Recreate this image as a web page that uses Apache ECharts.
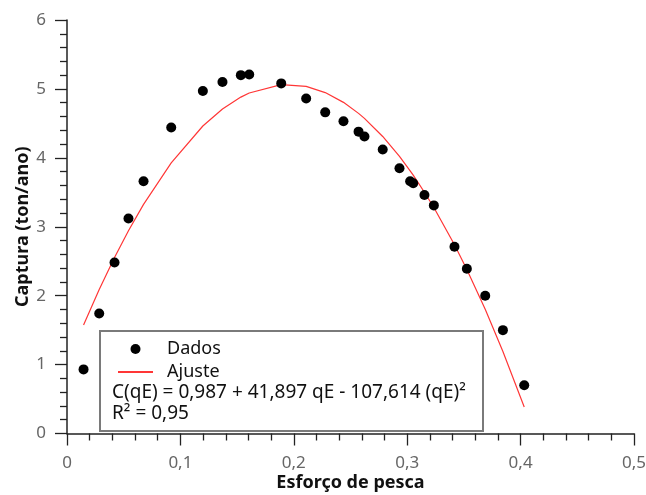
<!DOCTYPE html>
<html>
<head>
<meta charset="utf-8">
<script src="https://cdn.jsdelivr.net/npm/echarts@6/dist/echarts.min.js"></script>
<style>html,body{margin:0;padding:0;background:#fff}#c{width:646px;height:495px}</style>
</head>
<body>
<div id="c"></div>
<script>
var esforco = [0.0146,0.0284,0.0419,0.0542,0.0675,0.0919,0.1198,0.1371,0.1533,0.1607,0.1889,0.2109,0.2277,0.2438,0.2571,0.2623,0.2784,0.2932,0.3026,0.3053,0.3152,0.3235,0.3417,0.3526,0.3688,0.3844,0.4032];
var captura = [0.93,1.74,2.48,3.12,3.66,4.44,4.97,5.10,5.20,5.21,5.08,4.86,4.66,4.53,4.38,4.31,4.12,3.85,3.66,3.63,3.46,3.31,2.71,2.39,2.00,1.50,0.70];
var ajuste = [1.576,2.090,2.554,2.942,3.325,3.928,4.462,4.708,4.881,4.941,5.062,5.037,4.947,4.805,4.645,4.573,4.310,4.020,3.811,3.748,3.501,3.279,2.738,2.381,1.802,1.191,0.385];
var xTicks = [0,0.1,0.2,0.3,0.4,0.5];
var yTicks = [0,1,2,3,4,5,6];
var legendNames = ['Dados','Ajuste'];
var equationText = 'C(qE) = 0,987 + 41,897 qE - 107,614 (qE)²';
var r2Text = 'R² = 0,95';

var FONT = 'Noto Sans';
var dados = esforco.map(function(x,i){return [x,captura[i]];});
var fit = esforco.map(function(x,i){return [x,ajuste[i]];});

var chart = echarts.init(document.getElementById('c'), null, {renderer:'canvas'});
chart.setOption({
  animation:false,
  backgroundColor:'#fff',
  textStyle:{fontFamily:FONT},
  grid:{left:67,right:12,top:20,bottom:61.5,containLabel:false,outerBoundsMode:'none'},
  xAxis:{
    type:'value', min:xTicks[0], max:xTicks[xTicks.length-1], interval:0.1,
    name:'Esforço de pesca', nameLocation:'middle', nameGap:40, nameMoveOverlap:false,
    nameTextStyle:{fontFamily:FONT,fontWeight:'bold',fontSize:18,color:'#111'},
    axisLine:{show:true,onZero:false,lineStyle:{color:'#222',width:1.5}},
    axisTick:{show:true,inside:false,length:12,lineStyle:{color:'#222',width:1.3}},
    minorTick:{show:true,splitNumber:5,length:7,lineStyle:{color:'#222',width:1.3}},
    splitLine:{show:false},
    axisLabel:{margin:21,fontSize:17,color:'#666',fontFamily:FONT,
      formatter:function(v){return String(Math.round(v*10)/10).replace('.',',');}}
  },
  yAxis:{
    type:'value', min:yTicks[0], max:yTicks[yTicks.length-1], interval:1,
    name:'Captura (ton/ano)', nameLocation:'middle', nameGap:35, nameMoveOverlap:false,
    nameTextStyle:{fontFamily:FONT,fontWeight:'bold',fontSize:18,color:'#111'},
    axisLine:{show:true,onZero:false,lineStyle:{color:'#222',width:1.5}},
    axisTick:{show:true,inside:false,length:12,lineStyle:{color:'#222',width:1.3}},
    minorTick:{show:true,splitNumber:5,length:7,lineStyle:{color:'#222',width:1.3}},
    splitLine:{show:false},
    axisLabel:{margin:21,fontSize:17,color:'#666',fontFamily:FONT}
  },
  legend:{
    show:true, orient:'vertical', left:112, top:335, itemWidth:35, itemHeight:10, itemGap:5,
    data:[{name:legendNames[0],icon:'circle',itemStyle:{color:'#000',opacity:1}},
          {name:legendNames[1],itemStyle:{opacity:0}}],
    textStyle:{fontSize:18,lineHeight:18,color:'#111',fontFamily:FONT,padding:[0,0,0,9]},
    z:20
  },
  series:[
    {name:legendNames[0],type:'scatter',data:dados,symbol:'circle',symbolSize:10,
      itemStyle:{color:'#000',opacity:1},z:5},
    {name:legendNames[1],type:'line',data:fit,symbol:'none',showSymbol:false,
      lineStyle:{color:'#ff3636',width:1.2},itemStyle:{color:'#ff3636'},z:4}
  ],
  graphic:[
    {type:'rect',left:99,top:330,z:10,shape:{width:383,height:100},
      style:{fill:'#fff',stroke:'#7a7a7a',lineWidth:2}},
    {type:'text',left:112,top:383,z:11,
      style:{text:equationText,fontSize:19,fill:'#111',fontFamily:FONT}},
    {type:'text',left:112,top:404,z:11,
      style:{text:r2Text,fontSize:19,fill:'#111',fontFamily:FONT}}
  ]
});
</script>
</body>
</html>
